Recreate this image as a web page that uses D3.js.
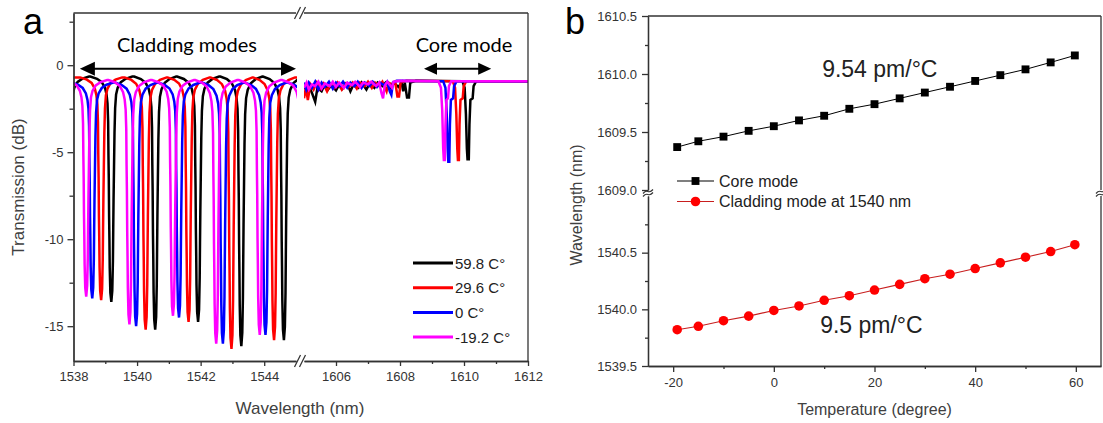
<!DOCTYPE html>
<html><head><meta charset="utf-8">
<script src="https://cdn.jsdelivr.net/npm/d3@7"></script>
<style>
body{margin:0;background:#fff;}
svg{display:block;}
</style></head><body>
<svg id="c" width="1103" height="423"></svg>
<script>
// ================= DATA (panel a) =================
const legendLabels = ["59.8 C°", "29.6 C°", "0 C°", "-19.2 C°"];
const seriesColors = ["#000000", "#ff0000", "#0000ff", "#ff00ff"];
// cladding-mode dips (nm, dB)
const cladBase = [-0.65, -0.7, -1.0, -0.85];
const cladCentersBlack = [1537.83, 1539.19, 1540.57, 1541.92, 1543.28, 1544.62];
const cladDepthsBlack  = [-13.0, -13.6, -15.2, -14.75, -16.15, -15.8];
const cladCentersRed   = [1538.87, 1540.27, 1541.62, 1542.97, 1544.31];
const cladDepthsRed    = [-13.5, -15.2, -14.75, -16.3, -15.8];
const cladCentersBlue  = [1538.59, 1539.97, 1541.32, 1542.70, 1544.04, 1545.40];
const cladDepthsBlue   = [-13.4, -15.0, -14.5, -16.0, -15.5, -14.5];
const cladCentersMag   = [1538.40, 1539.76, 1541.13, 1542.49, 1543.86, 1545.22];
const cladDepthsMag    = [-13.3, -14.9, -14.4, -16.0, -15.5, -14.5];
// shape of one dip: offset from centre (nm) and fraction of depth
const dipOffsets   = [-0.66,-0.45,-0.30,-0.20,-0.15,-0.12,-0.10,-0.09,-0.08,-0.07,-0.06,-0.05,-0.03,0,0.03,0.05,0.06,0.07,0.085,0.10,0.12,0.15,0.20,0.30,0.45,0.66];
const dipFractions = [0,0.01,0.025,0.05,0.08,0.12,0.2,0.35,0.45,0.62,0.72,0.85,0.96,1,0.95,0.82,0.68,0.55,0.4,0.25,0.14,0.08,0.05,0.025,0.01,0];

// right segment (1605-1612 nm): noisy region and core-mode dip, read point by point
const coreBlack = [[1605.0,-1.1],[1605.08,-1.5],[1605.15,-1.2],[1605.25,-1.6],[1605.35,-2.1],[1605.42,-1.3],[1605.55,-1.5],[1605.65,-1.1],[1605.75,-1.4],[1605.85,-1.15],[1606.0,-1.45],[1606.1,-1.1],[1606.2,-1.35],[1606.35,-1.05],[1606.45,-1.5],[1606.55,-1.1],[1606.7,-1.3],[1606.8,-1.0],[1606.95,-1.4],[1607.05,-1.05],[1607.2,-1.3],[1607.3,-1.0],[1607.45,-1.2],[1607.55,-1.0],[1607.7,-1.3],[1607.8,-1.0],[1607.95,-1.25],[1608.05,-1.0],[1608.1,-1.5],[1608.15,-1.0],[1608.22,-1.85],[1608.28,-1.85],[1608.32,-1.0],[1608.5,-0.9],[1609.95,-0.92],[1610.02,-1.3],[1610.06,-2.8],[1610.09,-4.8],[1610.11,-5.4],[1610.15,-5.4],[1610.17,-3.4],[1610.2,-2.0],[1610.27,-1.9],[1610.3,-1.2],[1610.38,-0.92],[1612,-0.92]];
const coreRed = [[1605.0,-1.9],[1605.06,-1.3],[1605.12,-2.0],[1605.2,-1.1],[1605.3,-1.4],[1605.4,-1.0],[1605.5,-1.35],[1605.6,-1.05],[1605.72,-1.5],[1605.82,-1.1],[1605.95,-1.3],[1606.05,-1.0],[1606.18,-1.4],[1606.3,-1.05],[1606.4,-1.25],[1606.52,-1.0],[1606.65,-1.35],[1606.75,-1.0],[1606.9,-1.2],[1607.0,-0.95],[1607.12,-1.3],[1607.22,-1.0],[1607.35,-1.2],[1607.45,-0.95],[1607.58,-1.5],[1607.64,-1.0],[1607.75,-1.1],[1607.85,-0.95],[1607.92,-1.8],[1607.97,-1.8],[1608.02,-1.0],[1608.2,-0.9],[1609.65,-0.92],[1609.72,-1.3],[1609.76,-2.8],[1609.79,-4.8],[1609.81,-5.45],[1609.84,-5.45],[1609.86,-3.4],[1609.89,-2.0],[1609.96,-1.9],[1609.99,-1.2],[1610.07,-0.92],[1612,-0.92]];
const coreBlue = [[1605.0,-1.0],[1605.07,-1.4],[1605.15,-1.0],[1605.25,-1.3],[1605.35,-0.95],[1605.45,-1.4],[1605.55,-1.0],[1605.65,-1.25],[1605.78,-0.95],[1605.9,-1.35],[1606.0,-1.0],[1606.12,-1.2],[1606.22,-0.95],[1606.35,-1.3],[1606.45,-1.0],[1606.58,-1.2],[1606.68,-0.95],[1606.8,-1.3],[1606.9,-1.0],[1607.05,-1.2],[1607.15,-0.95],[1607.28,-1.25],[1607.38,-1.0],[1607.5,-1.15],[1607.6,-0.95],[1607.68,-1.5],[1607.73,-1.7],[1607.78,-1.0],[1607.9,-0.9],[1609.35,-0.92],[1609.42,-1.3],[1609.46,-2.8],[1609.49,-4.8],[1609.51,-5.55],[1609.54,-5.55],[1609.56,-3.4],[1609.59,-2.0],[1609.66,-1.9],[1609.69,-1.2],[1609.77,-0.92],[1612,-0.92]];
const coreMag = [[1605.0,-1.3],[1605.08,-1.0],[1605.15,-1.4],[1605.25,-1.1],[1605.35,-1.2],[1605.45,-0.95],[1605.55,-1.35],[1605.65,-1.05],[1605.8,-1.2],[1605.9,-0.95],[1606.0,-1.25],[1606.1,-1.0],[1606.25,-1.3],[1606.35,-1.0],[1606.5,-1.15],[1606.6,-0.95],[1606.75,-1.25],[1606.85,-1.0],[1607.0,-1.1],[1607.1,-0.95],[1607.25,-1.2],[1607.35,-1.0],[1607.42,-1.6],[1607.47,-1.9],[1607.52,-1.2],[1607.6,-0.95],[1607.75,-1.3],[1607.8,-0.95],[1608.0,-0.9],[1609.2,-0.92],[1609.28,-1.3],[1609.32,-2.6],[1609.35,-4.8],[1609.37,-5.45],[1609.40,-5.45],[1609.42,-3.5],[1609.45,-2.0],[1609.5,-1.9],[1609.53,-1.2],[1609.6,-0.92],[1612,-0.92]];

const aXTicksL = [1538, 1540, 1542, 1544], aXMinorL = [1539, 1541, 1543];
const aXTicksR = [1606, 1608, 1610, 1612], aXMinorR = [1607, 1609, 1611];
const aYTicks = [0, -5, -10, -15], aYMinor = [2.5, -2.5, -7.5, -12.5];

// ================= DATA (panel b) =================
const temps = [-19.2, -15, -10, -5, 0, 5, 10, 15, 20, 25, 30, 35, 40, 45, 50, 55, 59.8];
const coreMode = [1609.37, 1609.42, 1609.46, 1609.51, 1609.55, 1609.60, 1609.64, 1609.70, 1609.74, 1609.79, 1609.84, 1609.89, 1609.94, 1609.99, 1610.04, 1610.10, 1610.16];
const cladMode = [1539.82, 1539.85, 1539.90, 1539.94, 1539.99, 1540.03, 1540.08, 1540.12, 1540.17, 1540.22, 1540.27, 1540.31, 1540.36, 1540.41, 1540.46, 1540.51, 1540.57];
const bXTicks = [-20, 0, 20, 40, 60], bXMinor = [-10, 10, 30, 50];
const bYTicksU = [1609.0, 1609.5, 1610.0, 1610.5], bYMinorU = [1609.25, 1609.75, 1610.25];
const bYTicksL = [1539.5, 1540.0, 1540.5], bYMinorL = [1539.75, 1540.25, 1540.75];
const bLegend = ["Core mode", "Cladding mode at 1540 nm"];

// ================= DRAWING =================
const FONT = '"Liberation Sans", Arial, sans-serif';
const CAL = 'Lato, "Open Sans", sans-serif';
const AX = "#333";
const svg = d3.select("#c");
const defs = svg.append("defs");

function cladPoints(centers, depths, base) {
  const pts = [[1537.2, base]];
  centers.forEach((c, i) => {
    dipOffsets.forEach((o, j) => pts.push([c + o, base + dipFractions[j] * (depths[i] - base)]));
  });
  pts.push([1546, base]);
  return pts;
}
const cladSeries = [
  cladPoints(cladCentersBlack, cladDepthsBlack, cladBase[0]),
  cladPoints(cladCentersRed, cladDepthsRed, cladBase[1]),
  cladPoints(cladCentersBlue, cladDepthsBlue, cladBase[2]),
  cladPoints(cladCentersMag, cladDepthsMag, cladBase[3])
];
const coreSeries = [coreBlack, coreRed, coreBlue, coreMag];

// ---------- panel a ----------
const xa1 = d3.scaleLinear().domain([1538, 1545]).range([73.5, 296]);
const xa2 = d3.scaleLinear().domain([1605, 1612]).range([304, 528]);
const ya = d3.scaleLinear().domain([-17, 3]).range([361, 13]);

defs.append("clipPath").attr("id", "clipL").append("rect")
  .attr("x", xa1(1538)).attr("y", ya(3)).attr("width", xa1(1545) - xa1(1538) + 1).attr("height", ya(-17) - ya(3));
defs.append("clipPath").attr("id", "clipR").append("rect")
  .attr("x", xa2(1605)).attr("y", ya(3)).attr("width", xa2(1612) - xa2(1605)).attr("height", ya(-17) - ya(3));

const ga = svg.append("g");
const lineL = d3.line().x(d => xa1(d[0])).y(d => ya(d[1]));
const lineR = d3.line().x(d => xa2(d[0])).y(d => ya(d[1]));
const gl = ga.append("g").attr("clip-path", "url(#clipL)");
const gr = ga.append("g").attr("clip-path", "url(#clipR)");
cladSeries.forEach((s, i) => {
  gl.append("path").attr("d", lineL(s)).attr("fill", "none").attr("stroke", seriesColors[i])
    .attr("stroke-width", 2.5).attr("stroke-linejoin", "miter");
});
coreSeries.forEach((s, i) => {
  gr.append("path").attr("d", lineR(s)).attr("fill", "none").attr("stroke", seriesColors[i])
    .attr("stroke-width", 2.5);
});

function styleAxis(g, fs) {
  g.selectAll("path.domain").attr("stroke", AX).attr("stroke-width", 1.3);
  g.selectAll(".tick line").attr("stroke", AX).attr("stroke-width", 1.3);
  g.selectAll("text").attr("fill", "#333").attr("font-family", FONT).attr("font-size", fs);
}
// bottom axis (two segments)
const yb0 = ya(-17);
let g;
g = ga.append("g").attr("transform", `translate(0,${yb0})`)
  .call(d3.axisBottom(xa1).tickValues(aXTicksL).tickSize(5).tickSizeOuter(0).tickPadding(6).tickFormat(d => String(d)));
styleAxis(g, 13);
g = ga.append("g").attr("transform", `translate(0,${yb0})`)
  .call(d3.axisBottom(xa1).tickValues(aXMinorL).tickSize(3).tickSizeOuter(0).tickFormat(""));
styleAxis(g, 13);
g = ga.append("g").attr("transform", `translate(0,${yb0})`)
  .call(d3.axisBottom(xa2).tickValues(aXTicksR).tickSize(5).tickSizeOuter(0).tickPadding(6).tickFormat(d => String(d)));
styleAxis(g, 13);
g = ga.append("g").attr("transform", `translate(0,${yb0})`)
  .call(d3.axisBottom(xa2).tickValues(aXMinorR).tickSize(3).tickSizeOuter(0).tickFormat(""));
styleAxis(g, 13);
// left axis
g = ga.append("g").attr("transform", `translate(${xa1(1538)},0)`)
  .call(d3.axisLeft(ya).tickValues(aYTicks).tickSize(6).tickSizeOuter(0).tickPadding(4).tickFormat(d => String(d)));
styleAxis(g, 13);
g = ga.append("g").attr("transform", `translate(${xa1(1538)},0)`)
  .call(d3.axisLeft(ya).tickValues(aYMinor).tickSize(4).tickSizeOuter(0).tickFormat(""));
styleAxis(g, 13);
// frame (top and right)
const ytop = ya(3);
ga.append("line").attr("x1", xa1(1538)).attr("x2", xa1(1545)).attr("y1", ytop).attr("y2", ytop).attr("stroke", AX).attr("stroke-width", 1.3);
ga.append("line").attr("x1", xa2(1605)).attr("x2", xa2(1612)).attr("y1", ytop).attr("y2", ytop).attr("stroke", AX).attr("stroke-width", 1.3);
ga.append("line").attr("x1", xa2(1612)).attr("x2", xa2(1612)).attr("y1", ytop).attr("y2", yb0).attr("stroke", AX).attr("stroke-width", 1.3);
// break marks
[ytop, yb0].forEach(yy => {
  [xa1(1545) + 1.5, xa2(1605) - 1.5].forEach(xx => {
    ga.append("line").attr("x1", xx - 3).attr("x2", xx + 3).attr("y1", yy + 6).attr("y2", yy - 6)
      .attr("stroke", AX).attr("stroke-width", 1.3);
  });
});
// axis titles
ga.append("text").attr("x", 300).attr("y", 414).attr("text-anchor", "middle")
  .attr("font-family", FONT).attr("font-size", 17).attr("fill", "#404040").text("Wavelength (nm)");
ga.append("text").attr("transform", `translate(24,${ya(-7)}) rotate(-90)`).attr("text-anchor", "middle")
  .attr("font-family", FONT).attr("font-size", 17).attr("fill", "#404040").text("Transmission (dB)");
// panel letter
svg.append("text").attr("x", 23).attr("y", 33.5).attr("font-family", FONT).attr("font-size", 36).attr("fill", "#000").text("a");

// arrows
function dblArrow(x1, x2, y, hl, hw) {
  ga.append("line").attr("x1", x1 + hl - 1).attr("x2", x2 - hl + 1).attr("y1", y).attr("y2", y).attr("stroke", "#000").attr("stroke-width", 2);
  ga.append("path").attr("d", `M${x1},${y}L${x1 + hl},${y - hw}L${x1 + hl},${y + hw}Z`).attr("fill", "#000");
  ga.append("path").attr("d", `M${x2},${y}L${x2 - hl},${y - hw}L${x2 - hl},${y + hw}Z`).attr("fill", "#000");
}
dblArrow(xa1(1538.2), xa1(1545), ya(-0.2), 15, 7);
dblArrow(xa2(1608.75), xa2(1610.85), ya(-0.2), 13, 6);
ga.append("text").attr("x", xa1(1541.57)).attr("y", ya(0.75)).attr("text-anchor", "middle")
  .attr("font-family", CAL).attr("font-size", 20).attr("fill", "#000").text("Cladding modes");
ga.append("text").attr("x", xa2(1610)).attr("y", ya(0.75)).attr("text-anchor", "middle")
  .attr("font-family", CAL).attr("font-size", 20).attr("fill", "#000").text("Core mode");

// legend a
const lgA = ga.append("g").attr("transform", "translate(413,263)");
legendLabels.forEach((t, i) => {
  lgA.append("line").attr("x1", 0).attr("x2", 40).attr("y1", i * 24.7).attr("y2", i * 24.7)
    .attr("stroke", seriesColors[i]).attr("stroke-width", 3);
  lgA.append("text").attr("x", 42).attr("y", i * 24.7 + 5.5).attr("font-family", FONT).attr("font-size", 15)
    .attr("fill", "#222").text(t);
});

// ---------- panel b ----------
const xb = d3.scaleLinear().domain([-25, 65]).range([648, 1101]);
const ybU = d3.scaleLinear().domain([1609.0, 1610.5]).range([190, 16]);
const ybL = d3.scaleLinear().domain([1539.5, 1541.0]).range([366, 196]);
const gb = svg.append("g");

g = gb.append("g").attr("transform", `translate(0,${ybL(1539.5)})`)
  .call(d3.axisBottom(xb).tickValues(bXTicks).tickSize(6).tickSizeOuter(0).tickPadding(6).tickFormat(d => String(d)));
styleAxis(g, 13);
g = gb.append("g").attr("transform", `translate(0,${ybL(1539.5)})`)
  .call(d3.axisBottom(xb).tickValues(bXMinor).tickSize(3).tickSizeOuter(0).tickFormat(""));
styleAxis(g, 13);
g = gb.append("g").attr("transform", `translate(${xb(-25)},0)`)
  .call(d3.axisLeft(ybU).tickValues(bYTicksU).tickSize(6).tickSizeOuter(0).tickPadding(5).tickFormat(d3.format(".1f")));
styleAxis(g, 13);
g = gb.append("g").attr("transform", `translate(${xb(-25)},0)`)
  .call(d3.axisLeft(ybU).tickValues(bYMinorU).tickSize(3).tickSizeOuter(0).tickFormat(""));
styleAxis(g, 13);
g = gb.append("g").attr("transform", `translate(${xb(-25)},0)`)
  .call(d3.axisLeft(ybL).tickValues(bYTicksL).tickSize(6).tickSizeOuter(0).tickPadding(5).tickFormat(d3.format(".1f")));
styleAxis(g, 13);
g = gb.append("g").attr("transform", `translate(${xb(-25)},0)`)
  .call(d3.axisLeft(ybL).tickValues(bYMinorL).tickSize(3).tickSizeOuter(0).tickFormat(""));
styleAxis(g, 13);
// frame
const xR = xb(65);
gb.append("line").attr("x1", xb(-25)).attr("x2", xR).attr("y1", ybU(1610.5)).attr("y2", ybU(1610.5)).attr("stroke", AX).attr("stroke-width", 1.3);
gb.append("line").attr("x1", xR).attr("x2", xR).attr("y1", ybU(1610.5)).attr("y2", ybU(1609)).attr("stroke", AX).attr("stroke-width", 1.3);
gb.append("line").attr("x1", xR).attr("x2", xR).attr("y1", ybL(1541)).attr("y2", ybL(1539.5)).attr("stroke", AX).attr("stroke-width", 1.3);
// axis breaks
[xb(-25), xR].forEach(xx => {
  [ybU(1609) + 1.5, ybL(1541) - 1.5].forEach(yy => {
    gb.append("path").attr("d", `M${xx - 5},${yy + 2}q2.5,-3 5,-2t5,-2`).attr("fill", "none").attr("stroke", AX).attr("stroke-width", 1.2);
  });
});
// lines + markers
const lineCore = d3.line().x((d, i) => xb(temps[i])).y(d => ybU(d));
const lineClad = d3.line().x((d, i) => xb(temps[i])).y(d => ybL(d));
gb.append("path").attr("d", lineCore(coreMode)).attr("fill", "none").attr("stroke", "#000").attr("stroke-width", 1);
gb.append("path").attr("d", lineClad(cladMode)).attr("fill", "none").attr("stroke", "#c81e1e").attr("stroke-width", 1.1);
const sq = d3.symbol(d3.symbolSquare, 62), ci = d3.symbol(d3.symbolCircle, 72);
gb.selectAll("path.sq").data(coreMode).join("path").attr("class", "sq")
  .attr("transform", (d, i) => `translate(${xb(temps[i])},${ybU(d)})`).attr("d", sq).attr("fill", "#000");
gb.selectAll("path.ci").data(cladMode).join("path").attr("class", "ci")
  .attr("transform", (d, i) => `translate(${xb(temps[i])},${ybL(d)})`).attr("d", ci).attr("fill", "#ff0000");
// annotations
gb.append("text").attr("x", xb(9.6)).attr("y", ybU(1609.97)).attr("font-family", FONT).attr("font-size", 23).attr("fill", "#222").text("9.54 pm/°C");
gb.append("text").attr("x", xb(9.2)).attr("y", ybL(1539.79)).attr("font-family", FONT).attr("font-size", 23).attr("fill", "#222").text("9.5 pm/°C");
// legend b
const lgB = gb.append("g").attr("transform", "translate(677,181)");
[["#000", sq, "#000"], ["#c81e1e", ci, "#ff0000"]].forEach((st, i) => {
  const yy = i * 20.5;
  lgB.append("line").attr("x1", 0).attr("x2", 37).attr("y1", yy).attr("y2", yy).attr("stroke", st[0]).attr("stroke-width", 1.2);
  lgB.append("path").attr("transform", `translate(18.5,${yy})`).attr("d", st[1]).attr("fill", st[2]);
  lgB.append("text").attr("x", 42).attr("y", yy + 5.5).attr("font-family", FONT).attr("font-size", 16).attr("fill", "#222").text(bLegend[i]);
});
// axis titles
gb.append("text").attr("x", xb(20)).attr("y", 415).attr("text-anchor", "middle")
  .attr("font-family", FONT).attr("font-size", 16).attr("fill", "#404040").text("Temperature (degree)");
gb.append("text").attr("transform", `translate(582,205) rotate(-90)`).attr("text-anchor", "middle")
  .attr("font-family", FONT).attr("font-size", 16).attr("fill", "#404040").text("Wavelength (nm)");
svg.append("text").attr("x", 565).attr("y", 33.5).attr("font-family", FONT).attr("font-size", 36).attr("fill", "#000").text("b");
</script>
</body></html>
